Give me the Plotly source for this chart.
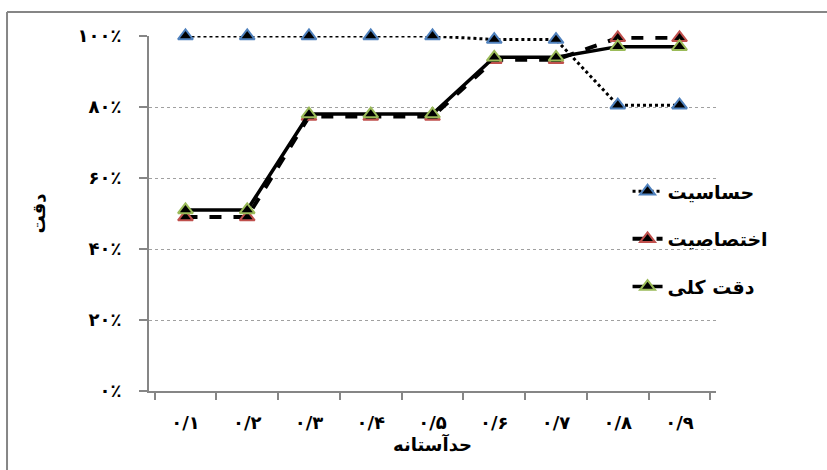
import plotly.graph_objects as go

categories = ["۰/۱", "۰/۲", "۰/۳", "۰/۴", "۰/۵", "۰/۶", "۰/۷", "۰/۸", "۰/۹"]
sensitivity = [100, 100, 100, 100, 100, 99, 99, 80.5, 80.5]
specificity = [49, 49, 77.3, 77.3, 77.3, 93.3, 93.3, 99.5, 99.5]
overall = [51, 51, 78, 78, 78, 94, 94, 97, 97]

y_tickvals = [0, 20, 40, 60, 80, 100]
y_ticktext = ["۰٪", "۲۰٪", "۴۰٪", "۶۰٪", "۸۰٪", "۱۰۰٪"]

series_names = ["حساسیت", "اختصاصیت", "دقت کلی"]

FONT = "DejaVu Sans"

fig = go.Figure()
specs = [
    (sensitivity, series_names[0], "dot", "#4F81BD", 3),
    (specificity, series_names[1], "dash", "#C0504D", 4),
    (overall, series_names[2], "solid", "#9BBB59", 3.5),
]
for i, (vals, name, dash, mcol, w) in enumerate(specs):
    fig.add_trace(go.Scatter(
        x=categories, y=vals, name=name, mode="lines+markers",
        line=dict(color="black", width=w, dash=dash),
        marker=dict(symbol="triangle-up", size=13, color="black",
                    line=dict(color=mcol, width=2)),
        cliponaxis=False, legendgroup=f"g{i}",
    ))

border = dict(color="#868686", width=2)
fig.update_layout(
    width=827, height=470,
    margin=dict(l=149, r=111, t=36, b=79),
    paper_bgcolor="white", plot_bgcolor="white",
    font=dict(family=FONT, size=17, color="black"),
    showlegend=True,
    legend=dict(x=0.844, y=0.616, xanchor="left", yanchor="top",
                bgcolor="rgba(0,0,0,0)", tracegroupgap=20,
                font=dict(family=FONT, size=19, color="black", weight="bold")),
    xaxis=dict(
        type="category", showline=True, linecolor="#868686", linewidth=2,
        ticks="outside", tickson="boundaries", ticklen=7, tickcolor="#868686",
        tickwidth=2, showgrid=False, automargin=False, ticklabelstandoff=14,
        tickfont=dict(family=FONT, size=18, weight="bold"),
        title=dict(text="حدآستانه", standoff=5,
                   font=dict(family=FONT, size=18, weight="bold")),
    ),
    yaxis=dict(
        range=[0, 100], tickvals=y_tickvals, ticktext=y_ticktext,
        showline=True, linecolor="#868686", linewidth=2,
        ticks="outside", ticklen=8, tickcolor="#868686", tickwidth=2,
        showgrid=True, gridcolor="#a0a0a0", griddash="dot", gridwidth=1,
        zeroline=False, automargin=False, ticklabelstandoff=14,
        tickfont=dict(family=FONT, size=18, weight="bold"),
        title=dict(text="دقت", standoff=27,
                   font=dict(family=FONT, size=18, weight="bold")),
    ),
    shapes=[
        dict(type="line", xref="paper", yref="paper",
             x0=-0.2504, x1=1.196, y0=1.0676, y1=1.0676, line=border),
        dict(type="line", xref="paper", yref="paper",
             x0=-0.2504, x1=-0.2504, y0=-0.23, y1=1.0676, line=border),
    ],
)

fig.write_html(
    "out.html",
    config={"displayModeBar": False},
    post_script="document.body.style.margin='0';document.body.style.padding='0';",
)
